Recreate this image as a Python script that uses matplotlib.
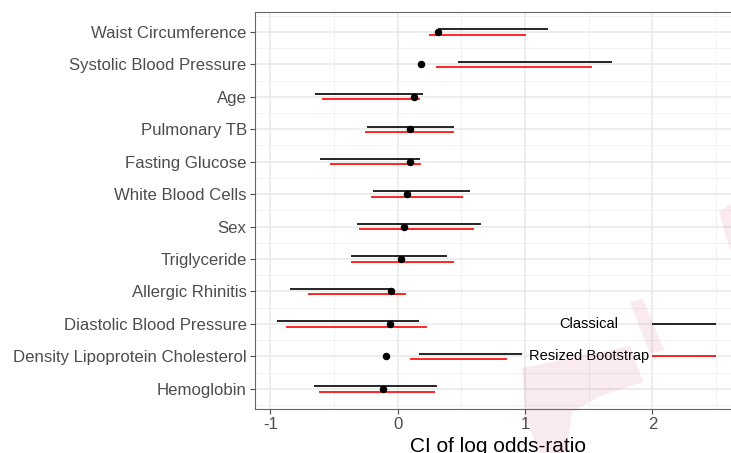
import matplotlib
matplotlib.use("Agg")
import matplotlib.pyplot as plt
from matplotlib.patches import Polygon
from matplotlib.ticker import MultipleLocator

plt.rcParams['font.family'] = ['Liberation Sans', 'DejaVu Sans']
plt.rcParams['axes.unicode_minus'] = False

variables = ["Hemoglobin", "Density Lipoprotein Cholesterol", "Diastolic Blood Pressure",
             "Allergic Rhinitis", "Triglyceride", "Sex", "White Blood Cells",
             "Fasting Glucose", "Pulmonary TB", "Age", "Systolic Blood Pressure",
             "Waist Circumference"]
estimate = [-0.113, -0.089, -0.063, -0.050, 0.029, 0.050, 0.076, 0.097, 0.099, 0.128, 0.186, 0.314]
classical_lo = [-0.657, 0.168, -0.950, -0.843, -0.366, -0.317, -0.191, -0.613, -0.238, -0.652, 0.471, 0.314]
classical_hi = [0.312, 0.976, 0.168, -0.037, 0.390, 0.654, 0.571, 0.173, 0.442, 0.196, 1.686, 1.178]
boot_lo = [-0.618, 0.094, -0.874, -0.707, -0.366, -0.306, -0.207, -0.529, -0.259, -0.597, 0.298, 0.243]
boot_hi = [0.293, 0.861, 0.230, 0.065, 0.442, 0.597, 0.513, 0.186, 0.440, 0.173, 1.529, 1.010]

legend_labels = ["Classical", "Resized Bootstrap"]
legend_colors = ["black", "#FF0000"]
legend_y = [3, 2]
legend_x = [2.0, 2.5]
legend_text_x = 1.5

W, H = 731, 453
fig = plt.figure(figsize=(W / 100, H / 100), dpi=100)
left_px, right_px, top_px, bot_px = 255, 740, 11.7, 409
ax = fig.add_axes([left_px / W, 1 - bot_px / H, (right_px - left_px) / W, (bot_px - top_px) / H])

x0 = -1 - (270.4 - left_px) / 127.5
x1 = 2 + (right_px - 652.3) / 127.5
ax.set_xlim(x0, x1)
ax.set_ylim(0.38, 12.62)

ax.set_facecolor("white")
ax.xaxis.set_major_locator(MultipleLocator(1))
ax.xaxis.set_minor_locator(MultipleLocator(0.5))
ypos = list(range(1, len(variables) + 1))
ax.set_yticks(ypos)
ax.set_yticklabels(variables)
ax.set_yticks([y + 0.5 for y in ypos[:-1]] + [0.5, 12.5], minor=True)
ax.grid(which="major", color="#E8E8E8", linewidth=1.1, zorder=0)
ax.grid(which="minor", color="#F0F0F0", linewidth=0.6, zorder=0)
ax.set_axisbelow(True)

off = 0.083
for i, y in enumerate(ypos):
    ax.plot([classical_lo[i], classical_hi[i]], [y + off, y + off], color="black", lw=1.2, zorder=3,
            solid_capstyle="butt")
    ax.plot([boot_lo[i], boot_hi[i]], [y - off, y - off], color="#FF0000", lw=1.2, zorder=3,
            solid_capstyle="butt")
ax.plot(estimate, ypos, "o", color="black", markersize=4.4, zorder=4)

for lab, col, yy in zip(legend_labels, legend_colors, legend_y):
    ax.plot(legend_x, [yy, yy], color=col, lw=1.2, zorder=3, solid_capstyle="butt")
    ax.text(legend_text_x, yy, lab, ha="center", va="center", fontsize=10.5, color="black", zorder=5)

for s in ax.spines.values():
    s.set_color("#666666")
    s.set_linewidth(0.8)

ax.tick_params(axis="both", which="major", labelsize=12.1, colors="#4D4D4D", length=3.5, width=0.8,
               pad=2.5)
ax.tick_params(which="minor", length=0)
ax.set_xlabel("CI of log odds-ratio", fontsize=15, color="black", labelpad=3)

# faint watermark shapes (figure pixel coords, y from top)
def fpoly(pts, **kw):
    xy = [(x / W, 1 - y / H) for x, y in pts]
    fig.patches.append(Polygon(xy, closed=True, transform=fig.transFigure, **kw))

wm = dict(facecolor="#C8385E", edgecolor="none", alpha=0.10, zorder=10)
fpoly([(719, 212), (731, 204), (731, 252), (726, 236)], **wm)
fpoly([(630, 302), (643, 299), (664, 350), (650, 354)], **wm)
fpoly([(522, 368), (630, 346), (643, 382), (600, 396), (572, 412), (566, 453), (540, 453), (526, 420)], **wm)

fig.savefig("out.png", dpi=100)
